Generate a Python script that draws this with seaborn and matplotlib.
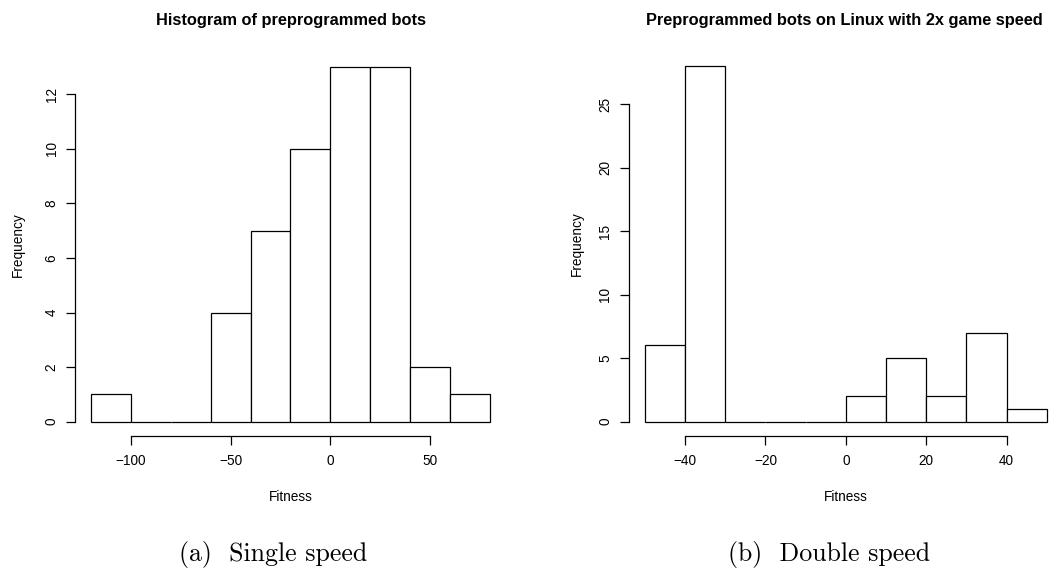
import matplotlib
matplotlib.use("Agg")
import matplotlib.pyplot as plt
import numpy as np
import pandas as pd
import seaborn as sns

# Histogram bins and counts for each game-speed setting
single_edges = [-120, -100, -80, -60, -40, -20, 0, 20, 40, 60, 80]
single_counts = [1, 0, 0, 4, 7, 10, 13, 13, 2, 1]

double_edges = [-50, -40, -30, -20, -10, 0, 10, 20, 30, 40, 50]
double_counts = [6, 28, 0, 0, 0, 2, 5, 2, 7, 1]

single_xticks = [-100, -50, 0, 50]
single_yticks = [0, 2, 4, 6, 8, 10, 12]
double_xticks = [-40, -20, 0, 20, 40]
double_yticks = [0, 5, 10, 15, 20, 25]

titles = ["Histogram of preprogrammed bots",
          "Preprogrammed bots on Linux with 2x game speed"]
captions = ["(a)  Single speed", "(b)  Double speed"]

sns.set_style("ticks")
plt.rcParams["font.family"] = ["Liberation Sans", "DejaVu Sans"]
plt.rcParams["axes.unicode_minus"] = True
plt.rcParams["text.color"] = "black"
plt.rcParams["axes.labelcolor"] = "black"

W, H = 1055, 571
fig = plt.figure(figsize=(W / 100, H / 100), dpi=100)


def px_axes(left, top, right, bottom):
    return fig.add_axes([left / W, 1 - bottom / H, (right - left) / W, (bottom - top) / H])


def draw_hist(ax, edges, counts, xticks, yticks, ylab_x):
    e = np.asarray(edges, float)
    df = pd.DataFrame({"fitness": (e[:-1] + e[1:]) / 2, "n": counts})
    sns.histplot(data=df, x="fitness", weights="n", bins=list(edges), ax=ax,
                 color="white", edgecolor="black", linewidth=0.9,
                 alpha=1, element="bars", fill=True)
    span_x = e[-1] - e[0]
    top = max(counts)
    ax.set_xlim(e[0] - 0.04 * span_x, e[-1] + 0.04 * span_x)
    ax.set_ylim(-0.04 * top, top * 1.04)
    for s in ("top", "right"):
        ax.spines[s].set_visible(False)
    ax.spines["left"].set_bounds(yticks[0], yticks[-1])
    ax.spines["bottom"].set_bounds(xticks[0], xticks[-1])
    for s in ("left", "bottom"):
        ax.spines[s].set_linewidth(0.9)
        ax.spines[s].set_color("black")
    ax.set_xticks(xticks)
    ax.set_yticks(yticks)
    ax.tick_params(length=6.3, width=0.9, color="black", labelsize=9.8,
                   labelcolor="black")
    ax.tick_params(axis="x", pad=7)
    ax.tick_params(axis="y", pad=5.5)
    for lbl in ax.get_yticklabels():
        lbl.set_rotation(90)
        lbl.set_va("center")
    ax.set_xlabel("Fitness", fontsize=9.8, va="center", color="black")
    ax.set_ylabel("Frequency", fontsize=9.8, va="center", color="black")
    ax.xaxis.set_label_coords(0.5, -0.1595)
    ax.yaxis.set_label_coords(ylab_x, 0.5)
    ax.set_facecolor("white")


ax1 = px_axes(75.05, 52.8, 505.9, 435.9)
draw_hist(ax1, single_edges, single_counts, single_xticks, single_yticks,
          (18 - 75.05) / 430.85)

ax2 = px_axes(628.7, 51.9, 1063.0, 435.9)
draw_hist(ax2, double_edges, double_counts, double_xticks, double_yticks,
          (577 - 628.7) / 434.3)

fig.text(290.5 / W, 1 - 20 / H, titles[0], ha="center", va="center",
         fontsize=11.8, fontweight="bold", color="black")
fig.text(844 / W, 1 - 20 / H, titles[1], ha="center", va="center",
         fontsize=11.8, fontweight="bold", color="black")

fig.text(273 / W, 1 - 555 / H, captions[0], ha="center", va="center",
         fontsize=18.6, family="cmr10", color="black")
fig.text(829 / W, 1 - 555 / H, captions[1], ha="center", va="center",
         fontsize=18.6, family="cmr10", color="black")

fig.savefig("out.png", dpi=100, facecolor="white")
